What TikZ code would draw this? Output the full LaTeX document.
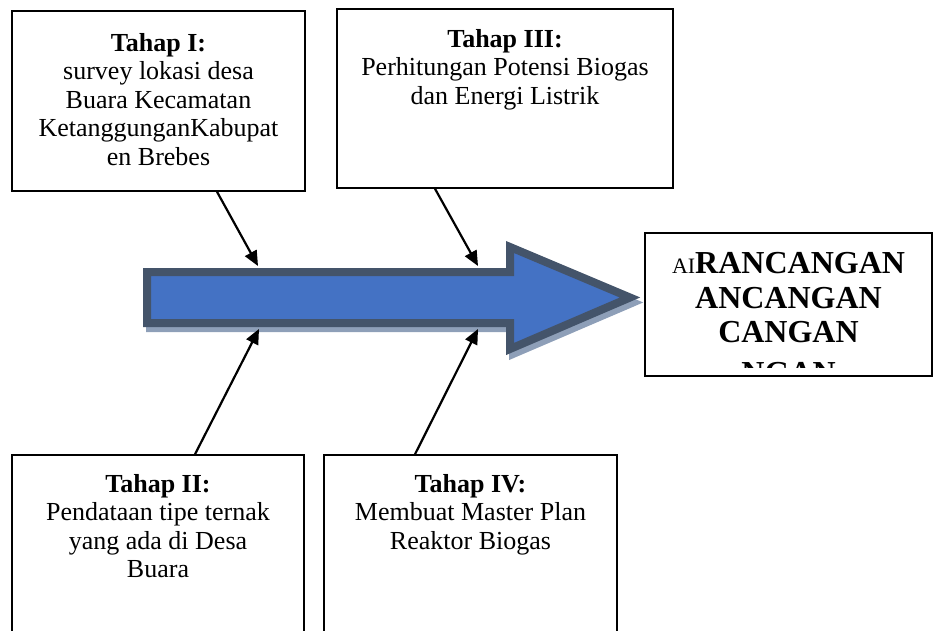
\documentclass[tikz,border=0pt]{standalone}
\usepackage{fontspec}
\setmainfont{Liberation Serif}
\usetikzlibrary{arrows.meta,positioning}
\definecolor{arrowfill}{HTML}{4472C4}
\definecolor{arrowline}{HTML}{44546A}
\definecolor{arrowshade}{HTML}{8E9FB8}
\tikzset{stage box/.style={rectangle,draw,line width=1.5pt,inner sep=0pt},
         stage text/.style={align=center,inner sep=0pt,font=\fontsize{26}{28.5}\selectfont},
         result text/.style={align=center,inner sep=0pt,font=\fontsize{32}{34.5}\selectfont\bfseries},
         link/.style={->,line width=2.2pt},
         big arrow/.style={line width=8pt,draw=arrowline,fill=arrowfill,line join=miter},
         arrow shade/.style={line width=8pt,draw=arrowshade,fill=arrowshade,line join=miter}
}
\begin{document}
\begin{tikzpicture}[x=1pt,y=-1pt,
>={Triangle[length=15pt,width=13pt]}]
\useasboundingbox (0,0) rectangle (934,631);
\clip (0,0) rectangle (934,631);
% stage boxes
\node [stage box,minimum width=293pt,minimum height=180pt] (box1) at (158.5,101) {};
\node [stage box,minimum width=336pt,minimum height=179pt] (box3) at (505,98.5) {};
\node [stage box,minimum width=292pt,minimum height=205pt] (box2) at (158,557.5) {};
\node [stage box,minimum width=293pt,minimum height=205pt] (box4) at (470.5,557.5) {};
\node [stage box,minimum width=287pt,minimum height=143pt] (result) at (788.5,304.5) {};

\node [stage text,below=23pt of box1.north] (text1) {\textbf{Tahap I:}\\survey lokasi desa\\Buara Kecamatan\\KetanggunganKabupat\\en Brebes};
\node [stage text,below=21pt of box3.north] (text3) {\textbf{Tahap III:}\\Perhitungan Potensi Biogas\\dan Energi Listrik};
\node [stage text,below=20pt of box2.north] (text2) {\textbf{Tahap II:}\\Pendataan tipe ternak\\yang ada di Desa\\Buara};
\node [stage text,below=20pt of box4.north] (text4) {\textbf{Tahap IV:}\\Membuat Master Plan\\Reaktor Biogas};

% result text, cut off by the box
\begin{scope}
\clip (646,234) rectangle (931,367);
\node [result text,below=20pt of result.north] (text5) {{\fontsize{22}{22}\mdseries\selectfont AI}RANCANGAN\\ANCANGAN\\CANGAN\\[6pt]NGAN};
\end{scope}

% main arrow
\draw [arrow shade,shift={(3pt,-5pt)}] (147,272) -- (510,272) -- (510,247) -- (630,297.5) -- (510,349) -- (510,323) -- (147,323) -- cycle;
\draw [big arrow] (147,272) -- (510,272) -- (510,247) -- (630,297.5) -- (510,349) -- (510,323) -- (147,323) -- cycle;

\coordinate (t1) at (258,266);
\coordinate (t3) at (478,266);
\coordinate (t2) at (259,329);
\coordinate (t4) at (478,329);
\draw [link] ([xshift=58.5pt]box1.south) -- (t1);
\draw [link] ([xshift=-70pt]box3.south) -- (t3);
\draw [link] ([xshift=37pt]box2.north) -- (t2);
\draw [link] ([xshift=-55.5pt]box4.north) -- (t4);
\end{tikzpicture}
\end{document}
